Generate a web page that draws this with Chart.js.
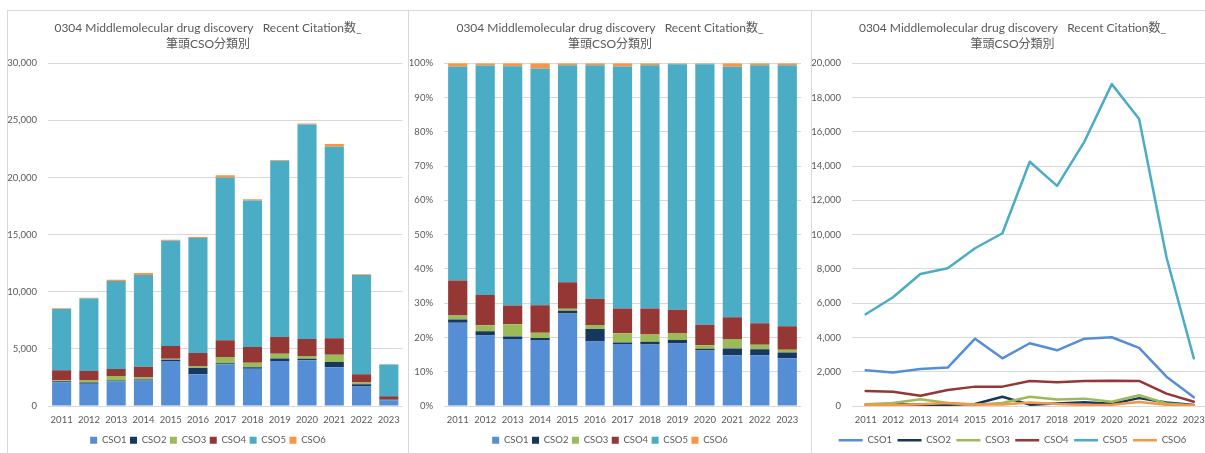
<!DOCTYPE html>
<html>
<head>
<meta charset="utf-8">
<script src="https://cdn.jsdelivr.net/npm/chart.js@4/dist/chart.umd.min.js"></script>
<style>
  html, body { margin: 0; padding: 0; background: #ffffff; overflow: hidden; }
  body { width: 1205px; height: 453px; position: relative; }
  .panel { position: absolute; top: 10px; height: 460px; box-sizing: border-box; border: 1px solid #d9d9d9; background: #fff; }
  #p1 { left: 7px; width: 402px; }
  #p2 { left: 409px; width: 403px; border-left: none; }
  #p3 { left: 812px; width: 402px; border-left: none; }
  canvas { position: absolute; top: 11px; }
  #c1 { left: 8px; }
  #c2 { left: 410px; }
  #c3 { left: 812px; }
</style>
</head>
<body>
<div class="panel" id="p1"></div>
<div class="panel" id="p2"></div>
<div class="panel" id="p3"></div>
<canvas id="c1" width="400" height="444"></canvas>
<canvas id="c2" width="400" height="444"></canvas>
<canvas id="c3" width="401" height="444"></canvas>
<script>
// Citation counts by first-author CSO class, 2011-2023
const years = ['2011', '2012', '2013', '2014', '2015', '2016', '2017', '2018', '2019', '2020', '2021', '2022', '2023'];
const seriesNames = ['CSO1', 'CSO2', 'CSO3', 'CSO4', 'CSO5', 'CSO6'];
const cso1 = [2080, 1950, 2160, 2240, 3930, 2780, 3660, 3250, 3930, 4010, 3390, 1710, 510];
const cso2 = [80, 115, 75, 70, 115, 540, 80, 145, 220, 125, 460, 200, 60];
const cso3 = [100, 170, 400, 180, 80, 180, 545, 380, 430, 250, 630, 150, 30];
const cso4 = [875, 835, 600, 935, 1130, 1130, 1460, 1380, 1460, 1480, 1460, 720, 250];
const cso5 = [5350, 6345, 7705, 8035, 9205, 10080, 14250, 12840, 15430, 18780, 16750, 8680, 2780];
const cso6 = [80, 60, 100, 180, 90, 90, 200, 110, 60, 75, 230, 70, 22];
const titleLines = ['0304 Middlemolecular drug discovery   Recent Citation数_', '筆頭CSO分類別'];
const countTicks = { stacked: { max: 30000, step: 5000 }, lines: { max: 20000, step: 2000 } };

const seriesValues = [cso1, cso2, cso3, cso4, cso5, cso6];
const seriesColors = ['#558ED5', '#17375E', '#9BBB59', '#953735', '#4BACC6', '#F79646'];

const FONT = "Lato, 'Noto Sans CJK JP', sans-serif";
Chart.defaults.font.family = FONT;
Chart.defaults.color = '#595959';
Chart.defaults.animation = false;
Chart.defaults.responsive = false;
Chart.defaults.devicePixelRatio = 1;

// Tick labels may extend past their axis box into the layout padding; don't clip them.
Chart.Scale.prototype._computeLabelArea = function () { return undefined; };

const GRID = '#d9d9d9';
const fmtThousands = v => Number(v).toLocaleString('en-US');

function titleOpts() {
  return {
    display: true,
    text: titleLines,
    color: '#595959',
    font: { family: FONT, size: 12, weight: 'normal', lineHeight: 1.33 },
    padding: { top: 9, bottom: 11.3 }
  };
}

function xScale(height, offset) {
  return {
    offset: offset,
    grid: { display: false, drawTicks: false },
    border: { display: false },
    ticks: { font: { size: 9.5 }, color: '#595959', padding: 8, maxRotation: 0, autoSkip: false },
    afterFit: s => { s.height = height; }
  };
}

function yScale(width, max, step, cb) {
  return {
    min: 0,
    max: max,
    grid: { color: GRID, lineWidth: 1, drawTicks: false },
    border: { display: false },
    ticks: { stepSize: step, font: { size: 9.5 }, color: '#595959', padding: 11, callback: cb },
    afterFit: s => { s.width = width; }
  };
}

function barLegend() {
  return {
    position: 'bottom',
    labels: { boxWidth: 7, boxHeight: 7, padding: 3.5, font: { size: 9.5 }, color: '#595959' }
  };
}

// Stacked column chart of absolute counts
new Chart(document.getElementById('c1'), {
  type: 'bar',
  data: {
    labels: years,
    datasets: seriesNames.map((name, i) => ({
      label: name,
      data: seriesValues[i],
      backgroundColor: seriesColors[i],
      borderWidth: 0,
      barPercentage: 0.7,
      categoryPercentage: 1.0
    }))
  },
  options: {
    layout: { padding: { left: 4, right: 4, top: 0, bottom: 0 } },
    scales: {
      x: Object.assign(xScale(26, true), { stacked: true }),
      y: Object.assign(yScale(36, countTicks.stacked.max, countTicks.stacked.step, fmtThousands), { stacked: true })
    },
    plugins: { title: titleOpts(), legend: barLegend(), tooltip: { enabled: false } }
  }
});

// 100% stacked column chart: each year's share per class
const yearTotals = years.map((_, j) => seriesValues.reduce((s, arr) => s + arr[j], 0));
new Chart(document.getElementById('c2'), {
  type: 'bar',
  data: {
    labels: years,
    datasets: seriesNames.map((name, i) => ({
      label: name,
      data: seriesValues[i].map((v, j) => v / yearTotals[j]),
      backgroundColor: seriesColors[i],
      borderWidth: 0,
      barPercentage: 0.7,
      categoryPercentage: 1.0
    }))
  },
  options: {
    layout: { padding: { left: 9, right: 9, top: 0, bottom: 0 } },
    scales: {
      x: Object.assign(xScale(26, true), { stacked: true }),
      y: Object.assign(yScale(25, 1, 0.1, v => Math.round(v * 100) + '%'), { stacked: true })
    },
    plugins: { title: titleOpts(), legend: barLegend(), tooltip: { enabled: false } }
  }
});

// Line chart of counts per class
new Chart(document.getElementById('c3'), {
  type: 'line',
  data: {
    labels: years,
    datasets: seriesNames.map((name, i) => ({
      label: name,
      data: seriesValues[i],
      borderColor: seriesColors[i],
      backgroundColor: seriesColors[i],
      borderWidth: 2.5,
      borderJoinStyle: 'round',
      borderCapStyle: 'round',
      pointRadius: 0,
      tension: 0,
      fill: false,
      order: seriesNames.length - 1 - i
    }))
  },
  options: {
    layout: { padding: { left: 4, right: 4, top: 0, bottom: 0 } },
    scales: {
      x: xScale(24, true),
      y: yScale(36, countTicks.lines.max, countTicks.lines.step, fmtThousands)
    },
    plugins: {
      title: titleOpts(),
      legend: {
        position: 'bottom',
        labels: {
          usePointStyle: true,
          pointStyle: 'line',
          pointStyleWidth: 24,
          padding: 5.5,
          font: { size: 9.5 },
          color: '#595959',
          sort: (a, b) => a.datasetIndex - b.datasetIndex
        }
      },
      tooltip: { enabled: false }
    }
  }
});
</script>
</body>
</html>
